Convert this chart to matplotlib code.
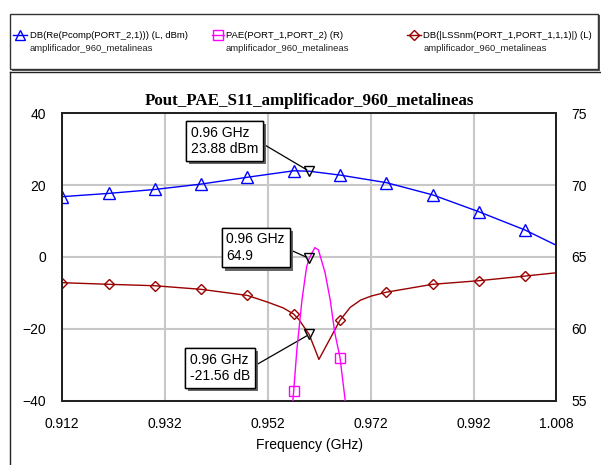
import numpy as np
import matplotlib
matplotlib.use("Agg")
import matplotlib.pyplot as plt
from matplotlib.lines import Line2D
from matplotlib.patches import Rectangle
import matplotlib.patheffects as pe

# ---- data ------------------------------------------------------------------
freq_pout = [0.912, 0.921, 0.930, 0.939, 0.948, 0.957, 0.960, 0.966,
             0.975, 0.984, 0.993, 1.002, 1.008]
pout_dbm = [16.8, 17.7, 18.8, 20.3, 22.2, 24.0, 23.88, 22.8,
            20.7, 17.3, 12.6, 7.5, 3.3]

freq_s11 = [0.912, 0.921, 0.930, 0.939, 0.948, 0.952, 0.955, 0.957, 0.958,
            0.960, 0.9619, 0.966, 0.968, 0.970, 0.972, 0.975, 0.984, 0.993, 1.002, 1.008]
s11_db = [-7.15, -7.6, -8.0, -9.0, -10.7, -12.6, -14.2, -15.9, -17.4,
          -21.56, -28.5, -17.6, -14.0, -12.0, -10.9, -9.8, -7.6, -6.6, -5.3, -4.4]

freq_pae = [0.9565, 0.957, 0.9576, 0.9586, 0.9595, 0.960, 0.9611, 0.9618,
            0.9631, 0.9641, 0.9650, 0.966, 0.9670, 0.9675]
pae = [53.5, 55.7, 58.5, 62.0, 64.3, 64.9, 65.65, 65.5,
       63.9, 62.0, 59.7, 58.0, 55.05, 53.0]

marker_freqs = [0.912, 0.921, 0.930, 0.939, 0.948, 0.957, 0.966,
                0.975, 0.984, 0.993, 1.002]
m_freq = 0.960
xticks = [0.912, 0.932, 0.952, 0.972, 0.992, 1.008]
left_ticks = [-40, -20, 0, 20, 40]
right_ticks = [55, 60, 65, 70, 75]

legend_names = ["DB(Re(Pcomp(PORT_2,1))) (L, dBm)",
                "PAE(PORT_1,PORT_2) (R)",
                "DB(|LSSnm(PORT_1,PORT_1,1,1)|) (L)"]
doc_name = "amplificador_960_metalineas"

BLUE, MAG, DRED = "#0000ff", "#ff00ff", "#990000"
SANS = "Liberation Sans"

W, H = 601, 465
fig = plt.figure(figsize=(W / 100, H / 100), dpi=100)
fig.patch.set_facecolor("white")


def fx(px):
    return px / W


def fy(py):
    return 1 - py / H


def idx(freqs, wanted):
    return [i for i, f in enumerate(freqs) if any(abs(f - w) < 1e-6 for w in wanted)]


# ---- outer frames -----------------------------------------------------------
fig.add_artist(Rectangle((fx(12), fy(71)), fx(588), 56 / H, transform=fig.transFigure,
                         fc="#555555", ec="none", zorder=0))
fig.add_artist(Rectangle((fx(10), fy(69)), fx(588), 55 / H, transform=fig.transFigure,
                         fc="white", ec="#333333", lw=1, zorder=1))
fig.add_artist(Line2D([fx(9.5), fx(601)], [fy(72), fy(72)], transform=fig.transFigure,
                      color="#222222", lw=1.0))
fig.add_artist(Line2D([fx(9.5), fx(9.5)], [fy(72), fy(465)], transform=fig.transFigure,
                      color="#222222", lw=1.0))

# ---- legend entries ---------------------------------------------------------
leg = [(12.7, 26.7, 30, BLUE, "^", 7), (211.5, 223.5, 226, MAG, "s", 7),
       (406.7, 420.7, 423.3, DRED, "D", 5)]
for (x0, x1, xt, col, mk, ms), name in zip(leg, legend_names):
    fig.add_artist(Line2D([fx(x0), fx((x0 + x1) / 2), fx(x1)], [fy(35)] * 3,
                          transform=fig.transFigure, color=col, lw=1, marker=mk,
                          markevery=[1], ms=ms, mfc="none", mec=col, zorder=3))
    fig.text(fx(xt), fy(35), name, fontsize=6.8, family=SANS, va="center", zorder=3)
    fig.text(fx(xt), fy(48.5), doc_name, fontsize=6.8, family=SANS, va="center",
             color="#222222", zorder=3)

# ---- axes -------------------------------------------------------------------
ax = fig.add_axes([fx(62.3), fy(400.7), fx(556 - 62.3), (400.7 - 113.3) / H])
ax2 = ax.twinx()

ax.plot(freq_pout, pout_dbm, color=BLUE, lw=1, marker="^", ms=8, mfc="none",
        mec=BLUE, markevery=idx(freq_pout, marker_freqs), zorder=3)
ax.plot(freq_s11, s11_db, color=DRED, lw=1, marker="D", ms=5.5, mfc="none",
        mec=DRED, markevery=idx(freq_s11, marker_freqs), zorder=3)
ax2.plot(freq_pae, pae, color=MAG, lw=1, marker="s", ms=7.5, mfc="none",
         mec=MAG, markevery=idx(freq_pae, marker_freqs), zorder=3)

ax.set_xlim(0.912, 1.008)
ax.set_ylim(-40, 40)
ax2.set_ylim(55, 75)
ax.set_xticks(xticks)
ax.set_xticklabels([f"{t:.3f}" for t in xticks])
ax.set_yticks(left_ticks)
ax2.set_yticks(right_ticks)
ax.grid(True, color="#c8c8c8", lw=1.5)
ax.set_axisbelow(True)
for a in (ax, ax2):
    for s in a.spines.values():
        s.set_color("#222222")
        s.set_linewidth(1.4)
ax.tick_params(axis="both", length=0, labelsize=10)
ax.tick_params(axis="y", pad=11.5)
ax.tick_params(axis="x", pad=11.5)
ax2.tick_params(axis="y", length=0, labelsize=10, pad=11.3)
for lab in ax.get_xticklabels() + ax.get_yticklabels() + ax2.get_yticklabels():
    lab.set_family(SANS)

ax.set_xlabel("Frequency (GHz)", family=SANS, fontsize=10, labelpad=5)
ax.set_title("Pout_PAE_S11_amplificador_960_metalineas", family="Liberation Serif",
             fontweight="bold", fontsize=12.2, pad=6)

# ---- marker readouts --------------------------------------------------------
m_pout = pout_dbm[freq_pout.index(m_freq)]
m_pae = pae[freq_pae.index(m_freq)]
m_s11 = s11_db[freq_s11.index(m_freq)]
readouts = [(ax, m_pout, f"{m_freq:.2f} GHz\n{m_pout:.2f} dBm", (190.7, 141)),
            (ax2, m_pae, f"{m_freq:.2f} GHz\n{m_pae:.1f}", (226.5, 247.5)),
            (ax, m_s11, f"{m_freq:.2f} GHz\n{m_s11:.2f} dB", (190, 368.3))]
for a, val, txt, (tx, ty) in readouts:
    a.plot([m_freq], [val], marker="v", ms=7.5, mfc="none", mec="black", lw=0, zorder=5)
    t = a.annotate(txt, xy=(m_freq, val), xytext=(tx, H - ty), textcoords="figure pixels",
                   ha="left", va="center", fontsize=10, family=SANS, zorder=6,
                   bbox=dict(boxstyle="square,pad=0.35", fc="white", ec="black", lw=1),
                   arrowprops=dict(arrowstyle="-", color="black", lw=0.9,
                                   relpos=(1, 0.5), shrinkA=0, shrinkB=2))
    t.get_bbox_patch().set_path_effects(
        [pe.withSimplePatchShadow(offset=(2.2, -2.2), shadow_rgbFace="#666666", alpha=1),
         pe.Normal()])

fig.savefig("out.png", dpi=100)
